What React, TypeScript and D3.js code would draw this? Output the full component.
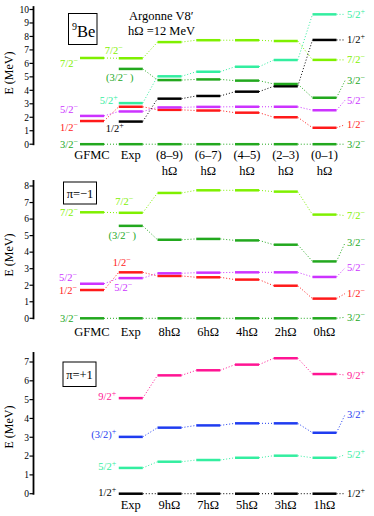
import React from 'react'
import * as d3 from 'd3'

// columns of each panel
const topCols = ['GFMC', 'Exp', '(8–9)', '(6–7)', '(4–5)', '(2–3)', '(0–1)']
const midCols = ['GFMC', 'Exp', '8hΩ', '6hΩ', '4hΩ', '2hΩ', '0hΩ']
const botCols = ['Exp', '9hΩ', '7hΩ', '5hΩ', '3hΩ', '1hΩ']

// top panel, energies in MeV (null = no level)
const top32m = [0, 0, 0, 0, 0, 0, 0]
const top12m = [1.72, 2.78, 2.55, 2.5, 2.34, 2.0, 1.22]
const top52m = [2.1, 2.43, 2.73, 2.77, 2.78, 2.78, 2.52]
const top12p = [null, 1.68, 3.38, 3.58, 3.9, 4.3, 7.74]
const top52p = [null, 3.05, 5.04, 5.38, 5.75, 6.25, 9.64]
const top32mB = [null, 5.59, 4.76, 4.81, 4.72, 4.47, 3.45]
const top72m = [6.4, 6.38, 7.58, 7.72, 7.72, 7.66, 6.26]

// middle panel (pi = -1)
const mid32m = [0, 0, 0, 0, 0, 0, 0]
const mid12m = [1.71, 2.78, 2.56, 2.48, 2.34, 1.97, 1.19]
const mid52m = [2.09, 2.43, 2.72, 2.76, 2.78, 2.78, 2.5]
const mid32mB = [null, 5.59, 4.75, 4.8, 4.71, 4.45, 3.44]
const mid72m = [6.41, 6.38, 7.58, 7.74, 7.74, 7.66, 6.27]

// bottom panel (pi = +1)
const bot12p = [0, 0, 0, 0, 0, 0]
const bot52p = [1.37, 1.7, 1.79, 1.91, 2.02, 1.91]
const bot32p = [3.02, 3.51, 3.63, 3.74, 3.74, 3.24]
const bot92p = [5.08, 6.29, 6.56, 6.86, 7.2, 6.36]

const topTicks = [0, 1, 2, 3, 4, 5, 6, 7, 8, 9, 10]
const midTicks = [0, 1, 2, 3, 4, 5, 6, 7, 8]
const botTicks = [0, 1, 2, 3, 4, 5, 6, 7]

const C = {
  g: '#22a81e',
  lg: '#7ff000',
  m: '#cc33ff',
  r: '#ff1a1a',
  k: '#000000',
  a: '#33eea0',
  b: '#1f3cf0',
  p: '#ff1493',
}

const FONT = '"Liberation Serif", "Times New Roman", serif'
const HALF = 12

const colX = d3.scaleLinear().domain([0, 6]).range([92, 324.5])

function LevelText({x, y, anchor, label, color}) {
  const [base, rest] = label.split('^')
  const sup = rest ? rest[0] : ''
  const post = rest ? rest.slice(1) : ''
  return (
    <text x={x} y={y + 3.5} textAnchor={anchor} fill={color} fontSize={10.5} fontFamily={FONT}>
      {base}
      {sup && <tspan dy={-4} fontSize={8}>{sup}</tspan>}
      {post && <tspan dy={4}>{post}</tspan>}
    </text>
  )
}

function Panel({y, cols, offset, series, ticks, axisTop, labelY, titleY, colLabelY, sideLabels, hw}) {
  const xs = cols.map((_, i) => colX(i + offset))
  const last = cols.length - 1
  return (
    <g>
      {/* axis */}
      <line x1={33.5} x2={33.5} y1={y(axisTop)} y2={y(0) + 1} stroke="#000" strokeWidth={1.8} />
      {ticks.map(t => (
        <g key={t}>
          <line x1={29.5} x2={33.5} y1={y(t)} y2={y(t)} stroke="#000" strokeWidth={1.2} />
          <text x={29} y={y(t) + 3.3} textAnchor="end" fontSize={9.5} fontFamily={FONT}>{t}</text>
        </g>
      ))}
      <text transform={`translate(13,${titleY}) rotate(-90)`} textAnchor="middle" fontSize={12} fontFamily={FONT}>E (MeV)</text>

      {/* columns */}
      {cols.map((c, i) => (
        <g key={c}>
          {c.split('\n').map((s, j) => (
            <text key={j} x={xs[i]} y={colLabelY + j * 16} textAnchor="middle" fontSize={12.5} fontFamily={FONT}>{s}</text>
          ))}
        </g>
      ))}

      {series.map(s => (
        <g key={s.key}>
          {s.values.map((v, i) => {
            const nxt = s.values[i + 1]
            if (v == null || nxt == null || i >= last) return null
            return (
              <line key={'c' + i} x1={xs[i] + HALF} x2={xs[i + 1] - HALF} y1={y(v)} y2={y(nxt)}
                stroke={s.color} strokeWidth={1} strokeDasharray="1 2" />
            )
          })}
          {s.values.map((v, i) => v == null ? null : (
            <line key={'b' + i} x1={xs[i] - HALF} x2={xs[i] + HALF} y1={y(v)} y2={y(v)}
              stroke={s.color} strokeWidth={2.5} />
          ))}
          {s.right != null && (
            <g>
              <line x1={xs[last] + HALF} x2={345} y1={y(s.values[last])} y2={y(s.values[last]) + s.right}
                stroke={s.color} strokeWidth={1} strokeDasharray="1 2" />
              <LevelText x={347} y={y(s.values[last]) + s.right} anchor="start" label={s.label} color={s.color} />
            </g>
          )}
        </g>
      ))}

      {sideLabels.map((l, i) => {
        const s = series.find(d => d.key === l.key)
        return (
          <LevelText key={i} x={xs[l.col] + l.dx} y={y(s.values[l.col]) + l.dy}
            anchor={l.anchor} label={l.text || s.label} color={s.color} />
        )
      })}
    </g>
  )
}

export default function App() {
  const yTop = d3.scaleLinear().domain([0, 10]).range([144.2, 9.5])
  const yMid = d3.scaleLinear().domain([0, 8]).range([318.3, 186])
  const yBot = d3.scaleLinear().domain([0, 7]).range([493.7, 362])

  const topSeries = [
    {key: '32m', label: '3/2^−', color: C.g, values: top32m, right: 0},
    {key: '12m', label: '1/2^−', color: C.r, values: top12m, right: -3},
    {key: '52m', label: '5/2^−', color: C.m, values: top52m, right: -10},
    {key: '12p', label: '1/2^+', color: C.k, values: top12p, right: 0},
    {key: '52p', label: '5/2^+', color: C.a, values: top52p, right: 0},
    {key: '32mB', label: '3/2^−', color: C.g, values: top32mB, right: -17},
    {key: '72m', label: '7/2^−', color: C.lg, values: top72m, right: 0},
  ]
  const topSide = [
    {key: '72m', col: 0, anchor: 'end', dx: -14, dy: 6},
    {key: '52m', col: 0, anchor: 'end', dx: -14, dy: -6},
    {key: '12m', col: 0, anchor: 'end', dx: -14, dy: 6},
    {key: '32m', col: 0, anchor: 'end', dx: -14, dy: 0},
    {key: '72m', col: 1, anchor: 'middle', dx: -17, dy: -8},
    {key: '32mB', col: 1, anchor: 'middle', dx: -11, dy: 9, text: '(3/2^− )'},
    {key: '52p', col: 1, anchor: 'end', dx: -13, dy: -3},
    {key: '12p', col: 1, anchor: 'middle', dx: -16, dy: 6.5},
  ]

  const midSeries = [
    {key: '32m', label: '3/2^−', color: C.g, values: mid32m, right: -1},
    {key: '12m', label: '1/2^−', color: C.r, values: mid12m, right: -5},
    {key: '52m', label: '5/2^−', color: C.m, values: mid52m, right: -9},
    {key: '32mB', label: '3/2^−', color: C.g, values: mid32mB, right: -18.5},
    {key: '72m', label: '7/2^−', color: C.lg, values: mid72m, right: 1},
  ]
  const midSide = [
    {key: '72m', col: 0, anchor: 'end', dx: -14, dy: 0.7},
    {key: '52m', col: 0, anchor: 'end', dx: -15, dy: -6.4},
    {key: '12m', col: 0, anchor: 'end', dx: -15, dy: 0},
    {key: '32m', col: 0, anchor: 'end', dx: -14, dy: 0.5},
    {key: '72m', col: 1, anchor: 'middle', dx: -6.5, dy: -11},
    {key: '32mB', col: 1, anchor: 'middle', dx: -8.5, dy: 10, text: '(3/2^− )'},
    {key: '12m', col: 1, anchor: 'middle', dx: -9, dy: -10},
    {key: '52m', col: 1, anchor: 'middle', dx: -7.5, dy: 9},
  ]

  const botSeries = [
    {key: '12p', label: '1/2^+', color: C.k, values: bot12p, right: 0},
    {key: '52p', label: '5/2^+', color: C.a, values: bot52p, right: -3},
    {key: '32p', label: '3/2^+', color: C.b, values: bot32p, right: -18},
    {key: '92p', label: '9/2^+', color: C.p, values: bot92p, right: 1},
  ]
  const botSide = [
    {key: '92p', col: 0, anchor: 'end', dx: -14.5, dy: -1.5},
    {key: '32p', col: 0, anchor: 'end', dx: -14.5, dy: -2, text: '(3/2)^+'},
    {key: '52p', col: 0, anchor: 'end', dx: -14.5, dy: -1},
    {key: '12p', col: 0, anchor: 'end', dx: -14.5, dy: -1},
  ]

  return (
    <svg width={374} height={516} style={{position: 'absolute', left: 0, top: 0, background: '#fff'}}>
      <Panel y={yTop} cols={topCols.map((c, i) => i < 2 ? c : c + '\nhΩ')} offset={0} series={topSeries}
        ticks={topTicks} axisTop={10.25} titleY={73} colLabelY={159} sideLabels={topSide} />
      <Panel y={yMid} cols={midCols} offset={0} series={midSeries}
        ticks={midTicks} axisTop={8.36} titleY={255} colLabelY={335.5} sideLabels={midSide} />
      <Panel y={yBot} cols={botCols} offset={1} series={botSeries}
        ticks={botTicks} axisTop={7.53} titleY={427} colLabelY={509} sideLabels={botSide} />

      {/* titles and boxes */}
      <text x={129} y={20} fontSize={12.5} fontFamily={FONT}>Argonne V8′</text>
      <text x={128} y={35} fontSize={12.5} fontFamily={FONT}>hΩ =12 MeV</text>

      <rect x={68.5} y={13.5} width={28.5} height={31} fill="none" stroke="#000" strokeWidth={1} />
      <text x={72} y={37} fontSize={16.5} fontFamily={FONT}>
        <tspan dy={-7} fontSize={10}>9</tspan><tspan dy={7}>Be</tspan>
      </text>

      <rect x={63.5} y={182} width={33} height={22} fill="none" stroke="#000" strokeWidth={1} />
      <text x={80} y={197.5} textAnchor="middle" fontSize={12.5} fontFamily={FONT}>π=−1</text>

      <rect x={63} y={362} width={33} height={24.5} fill="none" stroke="#000" strokeWidth={1} />
      <text x={79.5} y={379} textAnchor="middle" fontSize={12.5} fontFamily={FONT}>π=+1</text>
    </svg>
  )
}
